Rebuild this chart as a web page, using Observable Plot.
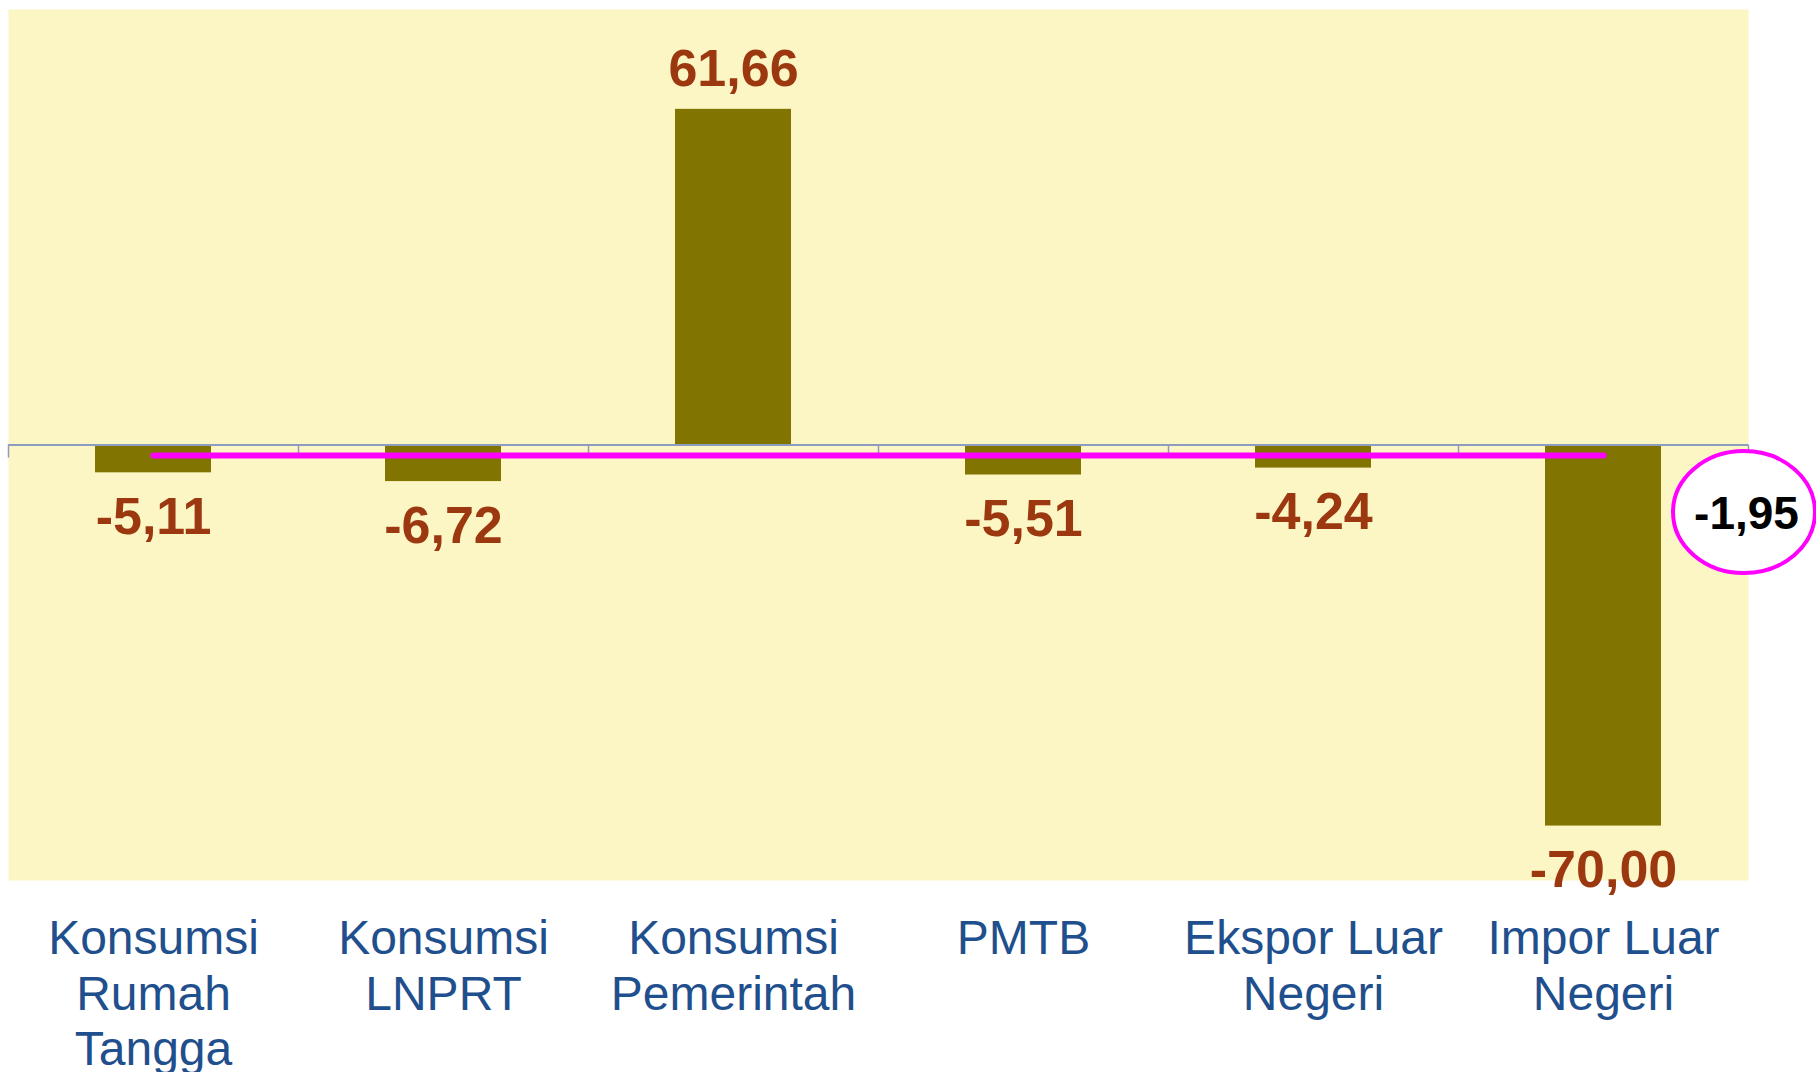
<!DOCTYPE html>
<html><head><meta charset="utf-8">
<script src="https://cdn.jsdelivr.net/npm/d3@7"></script>
<script src="https://cdn.jsdelivr.net/npm/@observablehq/plot@0.6"></script>
<style>html,body{margin:0;padding:0;background:#fff;} svg{display:block}</style>
</head><body><div id="chart"></div>
<script>
const categories = ["Konsumsi Rumah Tangga","Konsumsi LNPRT","Konsumsi Pemerintah","PMTB","Ekspor Luar Negeri","Impor Luar Negeri"];
const tickLabels = ["Konsumsi\nRumah\nTangga","Konsumsi\nLNPRT","Konsumsi\nPemerintah","PMTB","Ekspor Luar\nNegeri","Impor Luar\nNegeri"];
const values = [-5.11,-6.72,61.66,-5.51,-4.24,-70.00];
const average = [-1.95];
const yDomain = [-80, 80];

const W = 1816, H = 1072;
const M = {top: 9, right: 68, bottom: 192, left: 8};
const step = (W - M.left - M.right) / categories.length;
const font = "'Liberation Sans', Arial, sans-serif";
const fmt = v => d3.format(".2f")(v).replace("\u2212", "-").replace(".", ",");

const rows = categories.map((c, i) => ({category: c, value: values[i]}));
const avgRows = [categories[0], categories[categories.length - 1]].map(c => ({category: c, value: average[0]}));

const axisColor = "#8d9cc0";
const ELL = {rx: 71, ry: 61, dx: -4, dy: 57};

function ellipseMark(index, scales, values, dims) {
  const cx = dims.width - dims.marginRight + ELL.dx;
  const g = d3.create("svg:g");
  for (const v of average) {
    const cy = scales.y(v) + ELL.dy;
    g.append("ellipse").attr("cx", cx).attr("cy", cy).attr("rx", ELL.rx).attr("ry", ELL.ry)
      .attr("fill", "#ffffff").attr("stroke", "#ff00ff").attr("stroke-width", 4);
  }
  return g.node();
}

const chart = Plot.plot({
  width: W, height: H,
  marginTop: M.top, marginRight: M.right, marginBottom: M.bottom, marginLeft: M.left,
  style: {fontFamily: font, background: "#fff", overflow: "visible"},
  x: {domain: categories, paddingInner: 0.6, paddingOuter: 0.3},
  y: {domain: yDomain, axis: null},
  marks: [
    Plot.frame({fill: "#fcf5c4", stroke: "none"}),
    Plot.barY(rows, {x: "category", y: "value", fill: "#817400"}),
    Plot.ruleY([0], {stroke: axisColor, strokeWidth: 2}),
    Plot.ruleX(categories, {x: d => d, y1: 0, y2: -2.4, dx: -step / 2, stroke: axisColor, strokeWidth: 1.5}),
    Plot.ruleX([categories[categories.length - 1]], {x: d => d, y1: 0, y2: -2.4, dx: step / 2, stroke: axisColor, strokeWidth: 1.5}),
    Plot.line(avgRows, {x: "category", y: "value", stroke: "#ff00ff", strokeWidth: 6, strokeLinecap: "round"}),
    Plot.text(rows.filter(d => d.value >= 0), {x: "category", y: "value", text: d => fmt(d.value), lineAnchor: "bottom", dy: -23, fontSize: 52, fontWeight: "bold", fill: "#9c3810", fontFamily: font}),
    Plot.text(rows.filter(d => d.value < 0), {x: "category", y: "value", text: d => fmt(d.value), lineAnchor: "top", dy: 24, fontSize: 52, fontWeight: "bold", fill: "#9c3810", fontFamily: font}),
    ellipseMark,
    Plot.text(average, {y: d => d, frameAnchor: "right", textAnchor: "middle", dx: ELL.dx + 2, dy: ELL.dy + 2, text: d => fmt(d), fontSize: 46, fontWeight: "bold", fill: "#000", fontFamily: font}),
    Plot.axisX({tickSize: 0, tickPadding: 34, fontSize: 48, color: "#1f4f8c", lineHeight: 1.16, fontFamily: font, label: null,
      tickFormat: d => tickLabels[categories.indexOf(d)]})
  ]
});
document.getElementById("chart").append(chart);
</script>
</body></html>
